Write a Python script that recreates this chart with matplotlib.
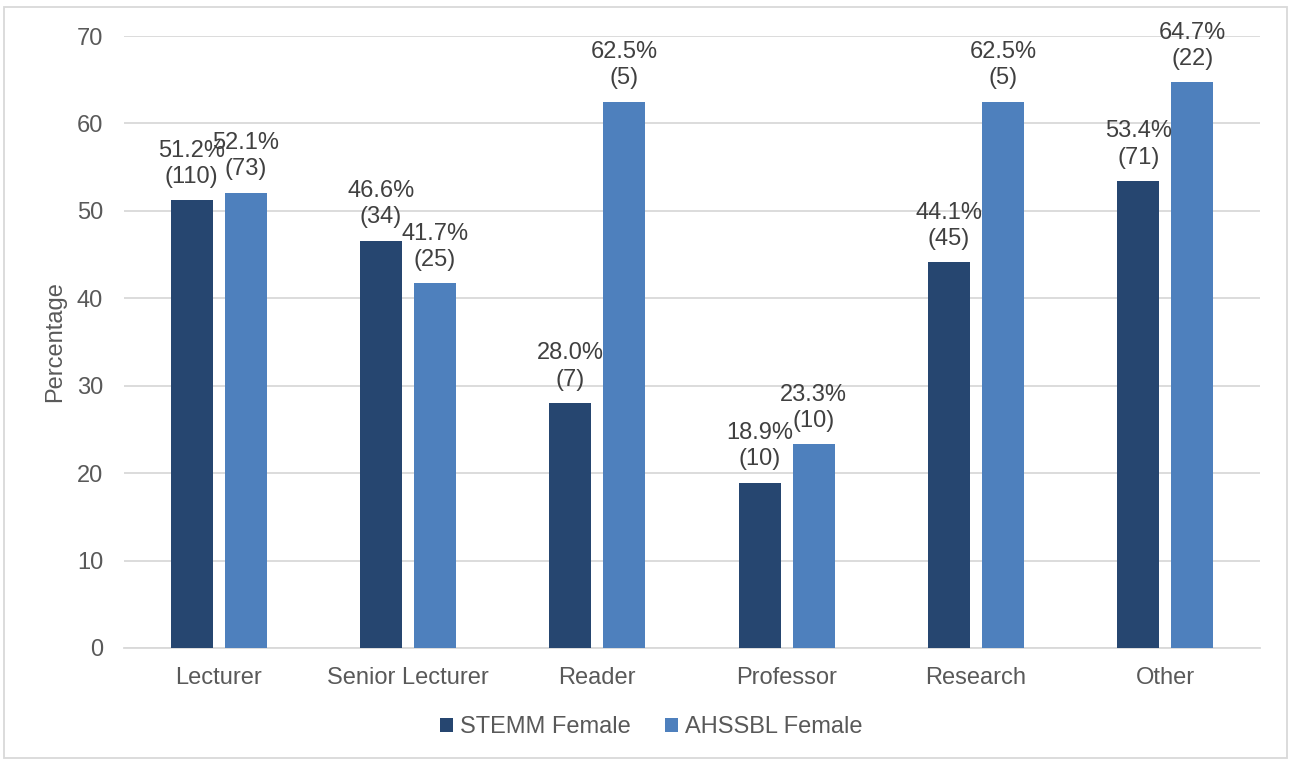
import numpy as np
import matplotlib
matplotlib.use('Agg')
import matplotlib.pyplot as plt
from matplotlib.patches import Rectangle

plt.rcParams['font.family'] = ['Liberation Sans', 'DejaVu Sans']

categories = ['Lecturer', 'Senior Lecturer', 'Reader', 'Professor', 'Research', 'Other']
stemm_pct = [51.2, 46.6, 28.0, 18.9, 44.1, 53.4]
stemm_n = [110, 34, 7, 10, 45, 71]
ahssbl_pct = [52.1, 41.7, 62.5, 23.3, 62.5, 64.7]
ahssbl_n = [73, 25, 5, 10, 5, 22]

DARK = '#264670'
LIGHT = '#4E80BD'
GRID = '#D9D9D9'
TXT = '#595959'
LBL = '#404040'

fig = plt.figure(figsize=(12.9, 7.6), dpi=100)
ax = fig.add_axes([0.0961, 0.1474, 0.8806, 0.8052])

x = np.arange(len(categories))
w = 0.222
off = 0.143
b1 = ax.bar(x - off, stemm_pct, w, color=DARK, label='STEMM Female', zorder=3)
b2 = ax.bar(x + off, ahssbl_pct, w, color=LIGHT, label='AHSSBL Female', zorder=3)

ax.bar_label(b1, labels=[f'{p:.1f}%\n({n})' for p, n in zip(stemm_pct, stemm_n)],
             padding=9, fontsize=17, color=LBL, linespacing=1.25)
ax.bar_label(b2, labels=[f'{p:.1f}%\n({n})' for p, n in zip(ahssbl_pct, ahssbl_n)],
             padding=9, fontsize=17, color=LBL, linespacing=1.25)

ax.set_xlim(-0.5, len(categories) - 0.5)
ax.set_ylim(0, 70)
ax.set_yticks(range(0, 71, 10))
ax.set_xticks(x)
ax.set_xticklabels(categories)
ax.tick_params(axis='both', length=0, labelsize=17, labelcolor=TXT)
ax.tick_params(axis='x', pad=14)
ax.tick_params(axis='y', pad=15)
ax.yaxis.grid(True, color=GRID, linewidth=1.3, zorder=0)
ax.set_axisbelow(True)
for s in ['top', 'right', 'left']:
    ax.spines[s].set_visible(False)
ax.spines['bottom'].set_color(GRID)
ax.spines['bottom'].set_linewidth(1.3)
ax.set_ylabel('Percentage', fontsize=17, color=TXT, labelpad=8)

fig.legend(loc='center', bbox_to_anchor=(0.505, 1 - 727 / 760), ncol=2, frameon=False,
           fontsize=17, labelcolor=TXT, handlelength=0.55, handleheight=0.55,
           handletextpad=0.3, columnspacing=1.45)

# thin border round the chart area
fig.patches.append(Rectangle((0.003, 0.003), 0.995, 0.988, transform=fig.transFigure,
                             fill=False, edgecolor=GRID, linewidth=1.3))

plt.savefig('out.png', dpi=100)
